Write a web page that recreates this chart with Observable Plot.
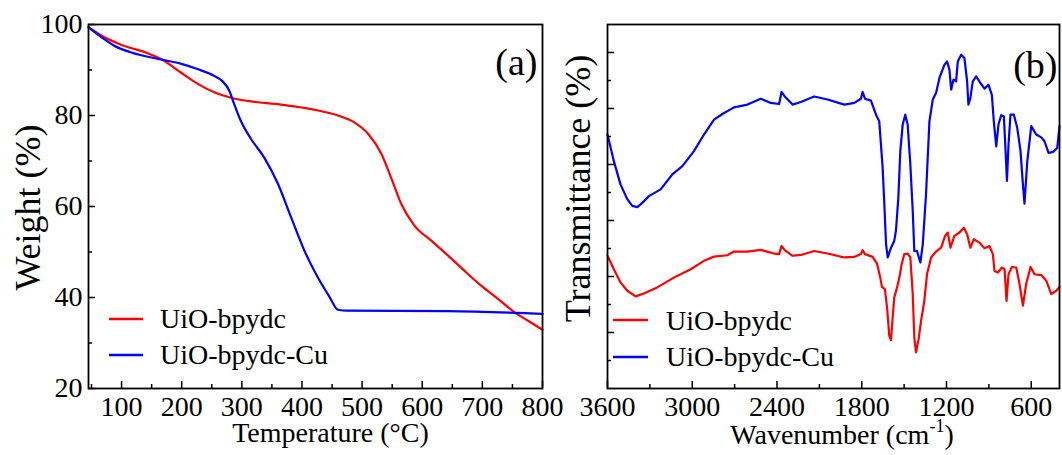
<!DOCTYPE html>
<html>
<head>
<meta charset="utf-8">
<script src="https://cdn.jsdelivr.net/npm/d3@7"></script>
<script src="https://cdn.jsdelivr.net/npm/@observablehq/plot@0.6"></script>
<style>
  html, body { margin: 0; padding: 0; background: #fff; }
  #chart { display: flex; width: 1062px; height: 455px; overflow: hidden; }
  #chart svg { flex: none; overflow: visible; }
  #chart svg, #chart svg text { font-family: "Liberation Serif", "Times New Roman", serif !important; }
</style>
</head>
<body>
<div id="chart"></div>
<script>
// Samples and colours
const seriesNames = ["UiO-bpydc", "UiO-bpydc-Cu"];
const seriesColors = ["#ff0000", "#0000ff"];

// (a) Thermogravimetric curves: temperature (°C) and remaining weight (%)
const tgaTempBare   = [45, 70, 98, 143, 170, 198, 226, 254, 282, 309, 365, 420, 460, 487, 510, 532, 548, 565, 587, 615, 643, 670, 698, 726, 753, 776, 800];
const tgaWeightBare = [99.4, 97.3, 95.6, 93.7, 92.1, 89.5, 87.0, 85.1, 83.9, 83.2, 82.4, 81.3, 80.0, 78.5, 76.0, 71.6, 66.4, 60.6, 55.8, 52.5, 49.2, 45.9, 42.6, 39.7, 36.8, 34.9, 32.9];
const tgaTempCu     = [45, 70, 87, 115, 170, 198, 226, 254, 268, 279, 287, 298, 315, 337, 360, 382, 404, 426, 446, 460, 476, 643, 800];
const tgaWeightCu   = [99.4, 96.9, 95.4, 93.9, 92.2, 91.4, 90.2, 88.7, 87.5, 85.5, 82.6, 78.9, 74.9, 70.8, 65.0, 57.6, 50.3, 44.5, 40.1, 37.3, 37.1, 37.0, 36.4];

const tempTicks = [100, 200, 300, 400, 500, 600, 700, 800];
const tempMinorTicks = [50, 150, 250, 350, 450, 550, 650, 750];
const weightTicks = [20, 40, 60, 80, 100];
const weightMinorTicks = [30, 50, 70, 90];

// (b) FTIR spectra: wavenumber (cm-1) and transmittance (arbitrary offset units)
const ftirWaveBare  = [3600, 3555, 3508, 3460, 3401, 3343, 3248, 3130, 3011, 2917, 2846, 2751, 2704, 2609, 2515, 2421, 2385, 2368, 2345, 2290, 2231, 2137, 2042, 1924, 1853, 1806, 1794, 1777, 1723, 1692, 1669, 1657, 1636, 1621, 1605, 1593, 1581, 1570, 1550, 1534, 1517, 1499, 1475, 1456, 1439, 1428, 1416, 1399, 1380, 1357, 1338, 1309, 1274, 1238, 1210, 1191, 1172, 1144, 1108, 1077, 1054, 1031, 1006, 967, 931, 896, 872, 860, 836, 808, 789, 775, 761, 737, 706, 683, 659, 636, 605, 577, 529, 494, 458, 423, 400];
const ftirTransBare = [47.4, 42.6, 37.9, 34.9, 32.9, 33.9, 36.1, 39.6, 42.6, 45.6, 47.1, 47.6, 48.9, 48.9, 49.5, 48.2, 48.0, 50.9, 49.4, 47.4, 47.7, 49.1, 48.2, 46.8, 47.0, 48.0, 49.4, 48.0, 47.0, 44.6, 39.6, 36.3, 35.5, 29.0, 18.9, 17.3, 25.4, 32.5, 36.1, 39.6, 44.4, 48.0, 48.2, 46.8, 33.7, 18.3, 12.9, 17.1, 24.2, 31.3, 40.8, 46.8, 48.9, 50.3, 54.5, 55.7, 50.3, 54.5, 55.7, 57.4, 55.1, 50.3, 53.3, 52.1, 50.1, 50.9, 48.0, 42.0, 41.4, 43.2, 42.6, 31.3, 40.8, 43.4, 43.2, 37.3, 29.6, 37.3, 43.4, 40.8, 40.5, 38.5, 33.7, 34.9, 36.3];
const ftirWaveCu    = [3600, 3555, 3508, 3460, 3425, 3389, 3354, 3307, 3224, 3141, 3070, 2988, 2917, 2846, 2775, 2704, 2609, 2515, 2444, 2385, 2368, 2345, 2290, 2231, 2137, 2042, 1924, 1853, 1806, 1794, 1777, 1735, 1699, 1676, 1664, 1652, 1640, 1628, 1616, 1593, 1570, 1558, 1541, 1527, 1510, 1492, 1475, 1456, 1439, 1428, 1409, 1385, 1368, 1345, 1321, 1297, 1274, 1250, 1215, 1196, 1179, 1167, 1151, 1132, 1120, 1096, 1073, 1054, 1045, 1031, 1014, 990, 960, 931, 903, 879, 865, 848, 832, 813, 794, 784, 772, 761, 747, 723, 699, 676, 659, 648, 628, 600, 565, 529, 506, 477, 446, 416, 400];
const ftirTransCu   = [90.7, 81.2, 72.9, 67.6, 65.2, 64.8, 66.3, 68.7, 71.1, 76.5, 79.4, 84.8, 90.7, 96.0, 98.4, 100.4, 101.4, 103.5, 102.0, 101.6, 105.9, 104.3, 101.4, 102.3, 104.3, 103.2, 101.4, 102.0, 103.5, 105.9, 103.5, 102.8, 97.8, 95.4, 87.1, 78.8, 65.8, 51.5, 46.8, 50.3, 52.7, 56.3, 68.1, 84.8, 94.3, 97.8, 94.3, 80.0, 63.4, 49.1, 49.1, 45.0, 51.5, 69.3, 95.4, 103.2, 105.5, 110.9, 115.6, 116.8, 113.8, 106.7, 110.3, 109.7, 116.8, 119.2, 118.0, 109.7, 101.4, 103.7, 109.7, 111.5, 109.1, 107.1, 108.5, 104.9, 95.4, 86.5, 94.3, 97.6, 97.2, 87.1, 74.1, 87.1, 97.8, 97.8, 93.0, 84.8, 72.9, 66.0, 81.2, 93.7, 90.7, 89.7, 88.3, 84.1, 84.5, 85.9, 93.7];

const waveTicks = [3600, 3000, 2400, 1800, 1200, 600];
const waveMinorTicks = [3300, 2700, 2100, 1500, 900];
const transTicks = [20, 40, 60, 80, 100, 120];
const transMinorTicks = [10, 30, 50, 70, 90, 110];

const font = "'Liberation Serif', 'Times New Roman', serif";
const zip = (xs, ys) => xs.map((x, i) => ({x, y: ys[i]})).filter(d => d.y != null);

// Inward-pointing ticks (major + minor) and outside tick labels
function axes(xTicks, xMinor, yTicks, yMinor, showYLabels) {
  return [
    Plot.axisX({ticks: xTicks, tickSize: -7, fill: "none", label: null, strokeWidth: 1.5}),
    Plot.axisX({ticks: xMinor, tickSize: -4, fill: "none", label: null, strokeWidth: 1.5}),
    Plot.axisX({ticks: xTicks, tickSize: 0, tickPadding: 8, tickFormat: "d", label: null, fontSize: 28, fontFamily: font}),
    Plot.axisY({ticks: yTicks, tickSize: -7, fill: "none", label: null, strokeWidth: 1.5}),
    Plot.axisY({ticks: yMinor, tickSize: -4, fill: "none", label: null, strokeWidth: 1.5}),
    showYLabels ? Plot.axisY({ticks: yTicks, tickSize: 0, tickPadding: 6, tickFormat: "d", label: null, fontSize: 28, fontFamily: font}) : null
  ];
}

function addLegend(svg, x1, x2, tx, lineYs, baselines) {
  const g = d3.select(svg).append("g")
    .attr("font-family", font).attr("font-size", 28).attr("fill", "#000");
  seriesNames.forEach((name, i) => {
    g.append("line").attr("x1", x1).attr("x2", x2)
      .attr("y1", lineYs[i]).attr("y2", lineYs[i])
      .attr("stroke", seriesColors[i]).attr("stroke-width", 2.4);
    g.append("text").attr("x", tx).attr("y", baselines[i])
      .attr("text-anchor", "start").text(name);
  });
}

const style = {fontFamily: font, fontSize: "28px", color: "#000", background: "none", overflow: "visible"};

// (a) TGA
const tga = Plot.plot({
  width: 560, height: 455,
  marginTop: 24, marginRight: 18, marginBottom: 67, marginLeft: 88,
  style,
  x: {domain: [45, 800]},
  y: {domain: [20, 100]},
  marks: [
    Plot.line(zip(tgaTempBare, tgaWeightBare), {x: "x", y: "y", stroke: seriesColors[0], strokeWidth: 2.2, curve: "monotone-x"}),
    Plot.line(zip(tgaTempCu, tgaWeightCu), {x: "x", y: "y", stroke: seriesColors[1], strokeWidth: 2.2, curve: "monotone-x"}),
    ...axes(tempTicks, tempMinorTicks, weightTicks, weightMinorTicks, true),
    Plot.frame({stroke: "#000", strokeWidth: 1.8}),
    Plot.text(["Temperature (°C)"], {text: d => d, frameAnchor: "bottom", textAnchor: "middle", dx: 15, dy: 53, fontSize: 28, fontFamily: font}),
    Plot.text(["Weight (%)"], {text: d => d, frameAnchor: "left", textAnchor: "middle", rotate: -90, dx: -60, dy: 1, fontSize: 36, fontFamily: font}),
    Plot.text(["(a)"], {text: d => d, frameAnchor: "top-right", textAnchor: "end", dx: -5, dy: 24, fontSize: 38, fontFamily: font})
  ]
});
addLegend(tga, 109, 143, 160, [319, 355], [328, 364]);

// (b) FTIR
const ftir = Plot.plot({
  width: 502, height: 455,
  marginTop: 24, marginRight: 3, marginBottom: 67, marginLeft: 47,
  style,
  x: {domain: [3600, 400]},
  y: {domain: [0, 130]},
  marks: [
    Plot.line(zip(ftirWaveBare, ftirTransBare), {x: "x", y: "y", stroke: seriesColors[0], strokeWidth: 2.2}),
    Plot.line(zip(ftirWaveCu, ftirTransCu), {x: "x", y: "y", stroke: seriesColors[1], strokeWidth: 2.2}),
    ...axes(waveTicks, waveMinorTicks, transTicks, transMinorTicks, false),
    Plot.frame({stroke: "#000", strokeWidth: 1.8}),
    Plot.text(["Transmittance (%)"], {text: d => d, frameAnchor: "left", textAnchor: "middle", rotate: -90, dx: -29, dy: -18, fontSize: 36, fontFamily: font}),
    Plot.text(["(b)"], {text: d => d, frameAnchor: "top-right", textAnchor: "end", dx: -2, dy: 27, fontSize: 38, fontFamily: font})
  ]
});
addLegend(ftir, 53, 88, 106, [320, 357], [330, 366]);

// Axis title with a superscripted exponent
const wl = d3.select(ftir).append("text")
  .attr("x", 282).attr("y", 444)
  .attr("text-anchor", "middle")
  .attr("font-family", font).attr("font-size", 28).attr("fill", "#000");
wl.append("tspan").text("Wavenumber (cm");
wl.append("tspan").attr("font-size", 18).attr("dy", -12).text("-1");
wl.append("tspan").attr("dy", 12).text(")");

document.getElementById("chart").append(tga, ftir);
</script>
</body>
</html>
